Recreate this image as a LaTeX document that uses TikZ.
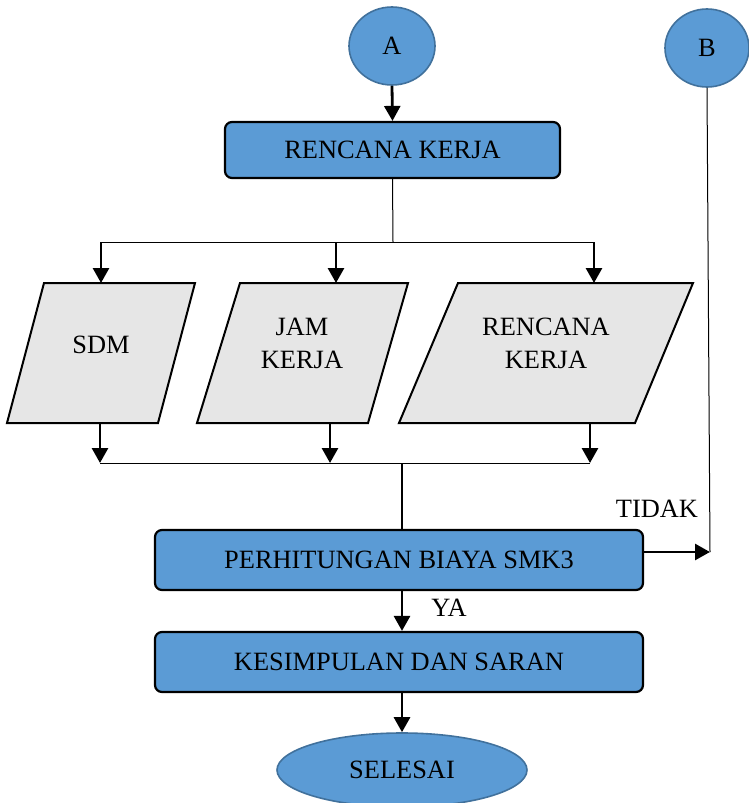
\documentclass[tikz,border=0pt]{standalone}
\usepackage{fontspec}
\setmainfont{Liberation Serif}
\usetikzlibrary{shapes.geometric,arrows.meta}
\definecolor{boxblue}{HTML}{5B9BD5}
\definecolor{ringblue}{HTML}{41719C}
\definecolor{paragray}{HTML}{E6E6E6}
\tikzset{
  txt/.style={font=\fontsize{26.4}{33}\selectfont},
  termnode/.style={ellipse,draw=ringblue,line width=1.6pt,fill=boxblue,inner sep=0pt,txt},
  procbox/.style={rectangle,rounded corners=7pt,draw=black,line width=2.2pt,fill=boxblue,inner sep=0pt,txt},
  para/.style={draw=black,line width=2pt,fill=paragray,line join=miter},
  thick arrow/.style={line width=2.8pt,-{Triangle[width=16pt,length=15pt]}},
  thin line/.style={line width=1pt},
}
\begin{document}
\begin{tikzpicture}[x=1pt,y=-1pt]
\useasboundingbox (0,0) rectangle (749,803);
\begin{scope}
\clip (0,0) rectangle (749,803);
% terminals
\node[termnode,minimum width=86pt,minimum height=78pt] (A) at (392,46) {A};
\node[termnode,minimum width=84pt,minimum height=78pt] (B) at (707,48) {B};
\node[termnode,minimum width=250pt,minimum height=74pt] (sel) at (402,770) {SELESAI};
\end{scope}
% process boxes
\node[procbox,minimum width=335pt,minimum height=56pt] (rk) at (392.5,150) {RENCANA KERJA};
\node[procbox,minimum width=488pt,minimum height=60pt] (perh) at (399,560) {PERHITUNGAN BIAYA SMK3};
\node[procbox,minimum width=488pt,minimum height=60pt] (kes) at (399,662) {KESIMPULAN DAN SARAN};
% parallelograms
\draw[para] (44,283) -- (195,283) -- (158,423) -- (7,423) -- cycle;
\draw[para] (240,283) -- (408,283) -- (368,423) -- (197,423) -- cycle;
\draw[para] (458,283) -- (693,283) -- (635,423) -- (399,423) -- cycle;
\node[txt] (sdm) at (101,345) {SDM};
\node[txt,align=center] (jam) at (302,343) {JAM\\KERJA};
\node[txt,align=center] (rk2) at (546,343) {RENCANA\\KERJA};
% coordinates
\coordinate (t0) at (393,242);
\coordinate (t1) at (101,242);
\coordinate (t2) at (336,242);
\coordinate (t3) at (594,242);
\coordinate (p1) at (101,283);
\coordinate (p2) at (336,283);
\coordinate (p3) at (594,283);
\coordinate (q1) at (100,423);
\coordinate (q2) at (330,423);
\coordinate (q3) at (590,423);
\coordinate (b1) at (100,463);
\coordinate (b2) at (330,463);
\coordinate (b3) at (590,463);
\coordinate (bm) at (402,463);
\coordinate (pt) at (402,530);
\coordinate (pe) at (643,552);
\coordinate (bj) at (710,552);
% connectors
\draw[thick arrow] (A.south) -- (rk.north);
\draw[thin line] (rk.south) -- (t0);
\draw[thin line] (t1) -- (t3);
\draw[thick arrow] (t1) -- (p1);
\draw[thick arrow] (t2) -- (p2);
\draw[thick arrow] (t3) -- (p3);
\draw[thick arrow] (q1) -- (b1);
\draw[thick arrow] (q2) -- (b2);
\draw[thick arrow] (q3) -- (b3);
\draw[thin line] (b1) -- (b3);
\draw[line width=1.3pt] (bm) -- (pt);
\draw[thin line] (B.south) -- (bj);
\draw[thick arrow] (pe) -- (bj);
\draw[thick arrow] (perh.south -| pt) -- (kes.north -| pt);
\draw[thick arrow] (kes.south -| pt) -- (sel.north);
% labels
\node[txt] (tidak) at (657,509) {TIDAK};
\node[txt] (ya) at (449,608) {YA};
\end{tikzpicture}
\end{document}
